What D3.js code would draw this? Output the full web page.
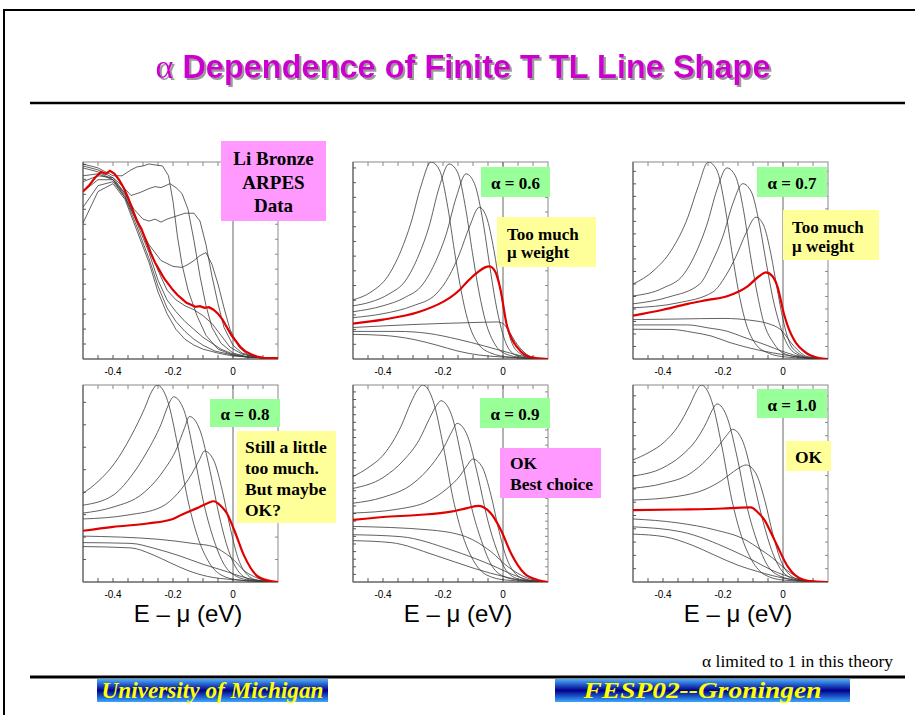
<!DOCTYPE html>
<html>
<head>
<meta charset="utf-8">
<script src="https://cdn.jsdelivr.net/npm/d3@7"></script>
<style>body{margin:0;background:#fff}</style>
</head>
<body>
<div id="slide"></div>
<script>
// energy axis (eV)
const eDomain = [-0.5, 0.15]
const eTicks = [-0.45, -0.4, -0.35, -0.3, -0.25, -0.2, -0.15, -0.1, -0.05, 0, 0.05, 0.1]
const eLabels = [-0.4, -0.2, 0]

// ARPES data panel
const arpesRed = [[-0.5,85],[-0.48,88],[-0.46,92],[-0.44,95],[-0.425,94],[-0.41,95.5],[-0.395,94],[-0.38,91],[-0.365,87],[-0.35,82],[-0.335,76],[-0.32,70],[-0.305,66],[-0.29,60],[-0.275,54],[-0.26,49],[-0.245,45],[-0.23,41],[-0.215,38],[-0.2,35],[-0.185,32.5],[-0.17,30.5],[-0.155,28.5],[-0.14,27.5],[-0.125,26.5],[-0.11,26.8],[-0.095,26],[-0.08,26.3],[-0.065,25],[-0.05,23],[-0.035,20],[-0.02,16],[-0.005,12],[0.01,9],[0.025,6],[0.04,4],[0.06,2.4],[0.08,1.2],[0.1,0.6],[0.15,0.4]]
const arpesBlack = [
  [[-0.5,99],[-0.45,97],[-0.4,93],[-0.37,93],[-0.34,96],[-0.32,97.5],[-0.3,98],[-0.28,99],[-0.26,98.5],[-0.235,98],[-0.215,93],[-0.2,80],[-0.185,62],[-0.17,48],[-0.15,35],[-0.12,22],[-0.09,12],[-0.05,5],[0,2],[0.05,1],[0.15,0.3]],
  [[-0.5,98],[-0.45,96],[-0.4,92],[-0.37,88],[-0.34,83],[-0.31,84.5],[-0.28,86.5],[-0.26,87.5],[-0.24,87],[-0.21,89],[-0.19,87],[-0.17,84],[-0.15,76],[-0.13,60],[-0.11,42],[-0.09,27],[-0.07,16],[-0.04,8],[0,3],[0.05,1],[0.15,0.3]],
  [[-0.5,97],[-0.45,95],[-0.4,91],[-0.36,84],[-0.33,76],[-0.3,71],[-0.28,70],[-0.26,71],[-0.24,69.5],[-0.22,71],[-0.19,72.5],[-0.16,74],[-0.13,74],[-0.11,70],[-0.09,58],[-0.07,42],[-0.05,28],[-0.03,16],[0,7],[0.03,3],[0.08,1],[0.15,0.3]],
  [[-0.5,93],[-0.45,94],[-0.4,91],[-0.36,82],[-0.32,70],[-0.28,58],[-0.24,50],[-0.2,47],[-0.17,46.5],[-0.15,48],[-0.13,50],[-0.11,52.5],[-0.09,54],[-0.07,48],[-0.05,38],[-0.03,26],[-0.01,15],[0.02,6],[0.05,2],[0.1,0.5],[0.15,0.3]],
  [[-0.5,90],[-0.45,93],[-0.4,92],[-0.36,84],[-0.32,71],[-0.28,57],[-0.25,45],[-0.22,35],[-0.19,30],[-0.16,27],[-0.13,25],[-0.1,22],[-0.07,18],[-0.04,12],[-0.01,6],[0.03,2.5],[0.08,0.8],[0.15,0.3]],
  [[-0.5,85],[-0.45,91],[-0.4,91],[-0.36,83],[-0.32,69],[-0.28,54],[-0.25,40],[-0.22,30],[-0.19,24],[-0.16,19],[-0.13,15],[-0.1,11],[-0.07,8],[-0.04,5],[0,2.5],[0.05,1],[0.15,0.3]],
  [[-0.5,77],[-0.45,88],[-0.4,90],[-0.36,82],[-0.32,67],[-0.28,51],[-0.25,37],[-0.22,26],[-0.19,19],[-0.16,14],[-0.13,10],[-0.1,7],[-0.06,4],[0,2],[0.05,0.8],[0.15,0.2]],
  [[-0.5,69],[-0.45,85],[-0.4,89],[-0.36,81],[-0.32,65],[-0.28,49],[-0.25,34],[-0.22,23],[-0.19,15],[-0.16,10],[-0.13,7],[-0.1,5],[-0.05,3],[0,1.5],[0.15,0.2]]
]

// theory, alpha = 0.6
const a06Red = [[-0.5,18],[-0.4,20],[-0.284,23.7],[-0.2,29],[-0.173,31.5],[-0.145,35],[-0.118,39.5],[-0.085,44],[-0.06,46.5],[-0.045,47],[-0.025,44],[-0.008,35],[0.013,17],[0.03,10],[0.047,6],[0.09,1],[0.15,0]]
const a06Black = [
  [[-0.5,30],[-0.44,34],[-0.384,42],[-0.34,55],[-0.307,69],[-0.273,88],[-0.24,100],[-0.212,96],[-0.184,77],[-0.162,55],[-0.14,35],[-0.118,20],[-0.084,8],[-0.04,3],[0.02,1],[0.15,0]],
  [[-0.5,27],[-0.44,29],[-0.38,33],[-0.324,40],[-0.28,53],[-0.247,67],[-0.213,87],[-0.18,99],[-0.152,95],[-0.124,76],[-0.102,54],[-0.08,34],[-0.058,19],[-0.025,7],[0.01,2.5],[0.06,0.8],[0.15,0]],
  [[-0.5,24],[-0.4,27],[-0.33,31],[-0.267,38],[-0.223,50],[-0.19,63],[-0.156,82],[-0.123,94],[-0.095,89],[-0.067,70],[-0.045,48],[-0.025,29],[-0.005,15],[0.02,5],[0.05,1.5],[0.1,0.3],[0.15,0]],
  [[-0.5,21],[-0.4,23],[-0.3,27],[-0.223,33],[-0.18,42],[-0.146,53],[-0.112,67],[-0.079,77],[-0.055,72],[-0.03,55],[-0.01,36],[0.01,19],[0.03,8],[0.06,2.5],[0.1,0.5],[0.15,0]],
  [[-0.5,16],[-0.3,17.5],[-0.1,18.5],[-0.02,18.8],[0,18],[0.02,14],[0.04,9],[0.07,3.5],[0.1,0.8],[0.15,0]],
  [[-0.5,14],[-0.35,14],[-0.25,13],[-0.15,10],[-0.062,6.6],[0,4],[0.05,2],[0.1,0.5],[0.15,0]],
  [[-0.5,12.5],[-0.4,12],[-0.3,10],[-0.22,7],[-0.15,4],[-0.08,2],[0,1],[0.1,0.2],[0.15,0]]
]

// theory, alpha = 0.7
const a07Red = [[-0.5,22],[-0.4,25],[-0.317,28],[-0.25,30],[-0.184,32],[-0.117,37],[-0.08,42],[-0.057,44],[-0.035,42],[-0.018,36.5],[0.003,23],[0.02,15],[0.037,9.6],[0.08,2.8],[0.12,0.5],[0.15,0]]
const a07Black = [
  [[-0.5,38],[-0.43,45],[-0.373,55],[-0.317,72],[-0.284,87],[-0.249,100],[-0.221,96],[-0.193,77],[-0.171,55],[-0.149,35],[-0.127,20],[-0.093,8],[-0.049,3],[0.01,1],[0.15,0]],
  [[-0.5,32],[-0.4,36],[-0.331,43],[-0.287,55],[-0.254,68],[-0.22,86],[-0.187,97],[-0.159,93],[-0.131,75],[-0.109,53],[-0.087,34],[-0.065,19],[-0.031,8],[0,3],[0.05,1],[0.15,0]],
  [[-0.5,28],[-0.38,31.5],[-0.278,38],[-0.234,50],[-0.201,62],[-0.167,79],[-0.134,89],[-0.106,85],[-0.078,68],[-0.056,49],[-0.034,31],[-0.012,18],[0.02,6],[0.06,1.5],[0.1,0.3],[0.15,0]],
  [[-0.5,26],[-0.35,28.5],[-0.234,34],[-0.19,42.5],[-0.157,52],[-0.123,64],[-0.09,72],[-0.065,68],[-0.04,53],[-0.02,36],[0,20],[0.02,9],[0.05,3],[0.09,0.6],[0.15,0]],
  [[-0.5,20],[-0.35,20.3],[-0.2,20.6],[-0.1,19.5],[-0.05,18],[-0.007,14.8],[0.037,6.4],[0.08,1.3],[0.15,0]],
  [[-0.5,17.3],[-0.318,17.3],[-0.25,15.8],[-0.184,14],[-0.13,11],[-0.073,8],[0.016,3],[0.08,0.5],[0.15,0]],
  [[-0.5,15.1],[-0.373,15],[-0.3,13.5],[-0.24,11.7],[-0.18,8.5],[-0.117,5.8],[-0.007,2.4],[0.08,0.5],[0.15,0]]
]

// theory, alpha = 0.8
const a08Red = [[-0.5,26],[-0.4,28],[-0.285,29.7],[-0.2,32],[-0.173,34],[-0.12,37.5],[-0.085,40],[-0.064,41],[-0.04,38.5],[-0.02,34.8],[0.004,26.4],[0.038,13],[0.083,2.8],[0.13,0.3],[0.15,0]]
const a08Black = [
  [[-0.5,45],[-0.45,51],[-0.396,60],[-0.34,74],[-0.295,88],[-0.27,97],[-0.253,100],[-0.218,92],[-0.184,69],[-0.151,42],[-0.118,23],[-0.084,11],[-0.04,3.6],[0.02,1],[0.15,0]],
  [[-0.5,39],[-0.4,44],[-0.343,53],[-0.287,66],[-0.24,80],[-0.215,90],[-0.198,94],[-0.163,87],[-0.129,64],[-0.096,39],[-0.063,21],[-0.03,9],[0.01,3],[0.06,0.8],[0.15,0]],
  [[-0.5,35],[-0.4,38],[-0.3,45],[-0.234,56],[-0.187,68],[-0.162,78],[-0.145,84],[-0.11,77],[-0.076,56],[-0.045,33],[-0.015,16],[0.02,5],[0.06,1.2],[0.15,0]],
  [[-0.5,32],[-0.35,34],[-0.24,38],[-0.184,45],[-0.137,55],[-0.112,62],[-0.095,66.5],[-0.065,62],[-0.035,46],[-0.01,28],[0.015,13],[0.04,5],[0.08,1],[0.15,0]],
  [[-0.5,23.3],[-0.25,21.7],[-0.13,19.5],[-0.064,17.9],[-0.03,15],[0.004,11],[0.035,6],[0.071,2.7],[0.11,0.6],[0.15,0]],
  [[-0.5,20],[-0.34,19.6],[-0.26,17],[-0.173,13],[-0.1,9],[-0.04,6.2],[0.049,1.9],[0.1,0.4],[0.15,0]],
  [[-0.5,18],[-0.34,17.3],[-0.27,14],[-0.207,9.6],[-0.15,5.8],[-0.084,2.8],[0,1.2],[0.08,0.3],[0.15,0]]
]

// theory, alpha = 0.9
const a09Red = [[-0.5,31.5],[-0.4,33],[-0.284,34],[-0.173,35.7],[-0.12,37.5],[-0.081,38.6],[-0.06,37.5],[-0.04,34.8],[-0.007,26.4],[0.027,14.5],[0.071,4.4],[0.115,1],[0.15,0]]
const a09Black = [
  [[-0.5,53.5],[-0.45,58],[-0.396,65],[-0.34,79],[-0.307,91],[-0.285,97.5],[-0.268,100],[-0.233,92],[-0.199,69],[-0.166,42],[-0.133,23],[-0.099,11],[-0.055,3.6],[0.01,1],[0.15,0]],
  [[-0.5,47.5],[-0.4,53],[-0.33,62],[-0.28,72],[-0.245,83],[-0.222,89.5],[-0.207,92],[-0.172,85],[-0.138,63],[-0.105,38],[-0.072,21],[-0.04,9],[0,3],[0.06,0.8],[0.15,0]],
  [[-0.5,40],[-0.4,43],[-0.3,50],[-0.24,59],[-0.195,69],[-0.17,76.5],[-0.153,80.5],[-0.118,74],[-0.084,54],[-0.052,32],[-0.02,16],[0.015,5],[0.06,1.2],[0.15,0]],
  [[-0.5,35],[-0.35,37],[-0.25,41],[-0.19,47],[-0.143,54],[-0.118,59.5],[-0.101,62.4],[-0.07,58.5],[-0.04,44],[-0.015,27],[0.01,13],[0.04,4.5],[0.08,1],[0.15,0]],
  [[-0.5,28.2],[-0.25,26.5],[-0.124,23],[-0.04,15.4],[0.016,7.8],[0.083,1.9],[0.15,0]],
  [[-0.5,24],[-0.34,23],[-0.173,16.3],[-0.04,8.7],[0.049,2.8],[0.1,0.6],[0.15,0]],
  [[-0.5,21],[-0.373,20],[-0.229,13.7],[-0.096,6.9],[0.004,2.7],[0.08,0.5],[0.15,0]]
]

// theory, alpha = 1.0
const a10Red = [[-0.5,36.5],[-0.35,36.8],[-0.2,37.3],[-0.14,37.8],[-0.107,37.9],[-0.085,35.5],[-0.062,31.5],[-0.04,25],[-0.018,18],[0.016,7.8],[0.04,3.5],[0.071,1],[0.11,0.2],[0.15,0]]
const a10Black = [
  [[-0.5,62],[-0.45,65.5],[-0.396,71],[-0.35,79],[-0.31,90],[-0.29,96.5],[-0.273,100],[-0.238,92],[-0.204,69],[-0.171,42],[-0.138,23],[-0.104,11],[-0.06,3.6],[0,1],[0.15,0]],
  [[-0.5,53.8],[-0.4,58],[-0.34,64],[-0.29,72],[-0.255,81],[-0.235,87.5],[-0.22,90.4],[-0.185,83],[-0.151,62],[-0.118,37],[-0.085,20],[-0.052,8.5],[-0.01,3],[0.05,0.8],[0.15,0]],
  [[-0.5,47.6],[-0.4,50],[-0.31,55],[-0.255,62],[-0.21,70],[-0.185,75],[-0.168,77.5],[-0.133,71],[-0.1,52],[-0.067,31],[-0.035,15],[0,5],[0.05,1],[0.15,0]],
  [[-0.5,41.6],[-0.35,43.5],[-0.26,47],[-0.205,51.5],[-0.165,56],[-0.14,58.5],[-0.123,59.4],[-0.09,55],[-0.06,41],[-0.035,25],[-0.01,12],[0.02,4],[0.06,1],[0.15,0]],
  [[-0.5,32],[-0.35,30],[-0.228,26.5],[-0.124,21.3],[-0.08,17],[-0.04,12.8],[0.027,4.4],[0.08,0.8],[0.15,0]],
  [[-0.5,28],[-0.34,25.5],[-0.173,16.3],[-0.1,11],[-0.04,6.2],[0.049,1.5],[0.1,0.3],[0.15,0]],
  [[-0.5,24.3],[-0.396,23],[-0.3,18.5],[-0.229,13.7],[-0.15,8.5],[-0.084,5.3],[0.004,1.9],[0.08,0.3],[0.15,0]]
]

// spacing of the intensity ticks in each panel
const yTickSteps = [7.6, 7.46, 6.35, 11.4, 3.86, 6.75]

const W = 915, H = 715
const colX = [83, 353, 633], rowY = [162, 385]
const pw = 195, ph = 197
const sans = "Arial, 'Liberation Sans', Helvetica, sans-serif"
const serif = "'Times New Roman', 'Liberation Serif', Times, serif"

const svg = d3.select("#slide").append("svg")
    .attr("width", W).attr("height", H)
    .style("background", "white")

const defs = svg.append("defs")
defs.append("filter").attr("id", "shadow").attr("x", "-5%").attr("y", "-20%").attr("width", "110%").attr("height", "140%")
    .append("feDropShadow").attr("dx", 2).attr("dy", 2).attr("stdDeviation", 0.4)
    .attr("flood-color", "#9a9a9a").attr("flood-opacity", 1)

// slide frame
svg.append("path").attr("d", "M4,715 V10 H915")
    .attr("fill", "none").attr("stroke", "#000").attr("stroke-width", 2)

// title (one text, shadow by filter)
const title = svg.append("text").attr("x", 463).attr("y", 78)
    .attr("text-anchor", "middle").attr("font-size", 32.5).attr("fill", "#cc00cc")
    .attr("filter", "url(#shadow)")
title.append("tspan").attr("font-family", serif).attr("font-size", 34).text("α")
title.append("tspan").attr("font-family", sans).attr("font-weight", "bold").text(" Dependence of Finite T TL Line Shape")

svg.append("line").attr("x1", 30).attr("x2", 905).attr("y1", 103).attr("y2", 103)
    .attr("stroke", "#000").attr("stroke-width", 2.5)

const panels = [
    {col: 0, row: 0, black: arpesBlack, red: arpesRed, step: yTickSteps[0], curve: d3.curveLinear},
    {col: 1, row: 0, black: a06Black, red: a06Red, step: yTickSteps[1], curve: d3.curveMonotoneX},
    {col: 2, row: 0, black: a07Black, red: a07Red, step: yTickSteps[2], curve: d3.curveMonotoneX},
    {col: 0, row: 1, black: a08Black, red: a08Red, step: yTickSteps[3], curve: d3.curveMonotoneX},
    {col: 1, row: 1, black: a09Black, red: a09Red, step: yTickSteps[4], curve: d3.curveMonotoneX},
    {col: 2, row: 1, black: a10Black, red: a10Red, step: yTickSteps[5], curve: d3.curveMonotoneX}
]

panels.forEach((p, i) => {
    const g = svg.append("g").attr("transform", `translate(${colX[p.col]},${rowY[p.row]})`)
    const x = d3.scaleLinear().domain(eDomain).range([0, pw])
    const y = d3.scaleLinear().domain([0, 100]).range([ph, 0])

    g.append("clipPath").attr("id", "clip" + i)
        .append("rect").attr("width", pw).attr("height", ph)

    // frame
    g.append("rect").attr("width", pw).attr("height", ph)
        .attr("fill", "none").attr("stroke", "#8a8a8a").attr("stroke-width", 1)
    g.append("path").attr("d", `M0,0 V${ph} H${pw}`)
        .attr("fill", "none").attr("stroke", "#555").attr("stroke-width", 1)

    // ticks on all four sides, pointing in
    const yt = d3.range(p.step, 100, p.step)
    g.append("g").selectAll("line").data(eTicks).join("line")
        .attr("x1", d => x(d)).attr("x2", d => x(d)).attr("y1", ph).attr("y2", ph - 4)
        .attr("stroke", "#555")
    g.append("g").selectAll("line").data(eTicks).join("line")
        .attr("x1", d => x(d)).attr("x2", d => x(d)).attr("y1", 0).attr("y2", 4)
        .attr("stroke", "#888")
    g.append("g").selectAll("line").data(yt).join("line")
        .attr("x1", 0).attr("x2", 3).attr("y1", d => y(d)).attr("y2", d => y(d))
        .attr("stroke", "#555")
    g.append("g").selectAll("line").data(yt).join("line")
        .attr("x1", pw).attr("x2", pw - 3).attr("y1", d => y(d)).attr("y2", d => y(d))
        .attr("stroke", "#888")

    g.append("g").selectAll("text").data(eLabels).join("text")
        .attr("x", d => x(d)).attr("y", ph + 16)
        .attr("text-anchor", "middle").attr("font-family", sans).attr("font-size", 10)
        .text(d => d.toString())

    // Fermi level
    g.append("line").attr("x1", x(0)).attr("x2", x(0)).attr("y1", 0).attr("y2", ph)
        .attr("stroke", "#666").attr("stroke-width", 1)

    const line = d3.line().x(d => x(d[0])).y(d => y(d[1])).curve(p.curve)
    const plot = g.append("g").attr("clip-path", `url(#clip${i})`)
    plot.selectAll("path.k").data(p.black).join("path").attr("class", "k")
        .attr("d", line).attr("fill", "none").attr("stroke", "#3a3a3a").attr("stroke-width", 0.8)
    plot.append("path").datum(p.red).attr("d", line)
        .attr("fill", "none").attr("stroke", "#e00000").attr("stroke-width", 2.2)

    if (p.row === 1) {
        svg.append("text").attr("x", colX[p.col] + x(-0.15)).attr("y", rowY[1] + ph + 40)
            .attr("text-anchor", "middle").attr("font-family", sans).attr("font-size", 24)
            .text("E – μ (eV)")
    }
})

// annotation boxes
function note(x, y, w, h, fill, lines, opts) {
    svg.append("rect").attr("x", x).attr("y", y).attr("width", w).attr("height", h).attr("fill", fill)
    const t = svg.append("text").attr("font-family", serif).attr("font-weight", "bold")
        .attr("font-size", opts.size).attr("text-anchor", opts.anchor)
    lines.forEach((s, k) => t.append("tspan").attr("x", opts.tx).attr("y", opts.ty + k * opts.lh).text(s))
}
const green = "#99ff99", yellow = "#ffff99", pink = "#ff99ff"

note(221, 141, 105, 80, pink, ["Li Bronze", "ARPES", "Data"], {size: 19, anchor: "middle", tx: 273.5, ty: 165, lh: 23.5})

note(481, 167, 69, 30, green, ["α = 0.6"], {size: 17, anchor: "middle", tx: 515.5, ty: 189, lh: 0})
note(497, 217, 99, 50, yellow, ["Too much", "μ weight"], {size: 17, anchor: "start", tx: 507, ty: 240, lh: 18})

note(757, 167, 70, 30, green, ["α = 0.7"], {size: 17, anchor: "middle", tx: 792, ty: 189, lh: 0})
note(783, 210, 96, 50, yellow, ["Too much", "μ weight"], {size: 17, anchor: "start", tx: 792, ty: 233, lh: 19})

note(210, 399, 70, 28, green, ["α = 0.8"], {size: 17, anchor: "middle", tx: 245, ty: 420, lh: 0})
note(237, 431, 99, 92, yellow, ["Still a little", "too much.", "But maybe", "OK?"], {size: 17.5, anchor: "start", tx: 245, ty: 453, lh: 21})

note(480, 398, 70, 30, green, ["α = 0.9"], {size: 17, anchor: "middle", tx: 515, ty: 420, lh: 0})
note(500, 448, 101, 50, pink, ["OK", "Best choice"], {size: 17.5, anchor: "start", tx: 510, ty: 469, lh: 21})

note(757, 389, 70, 29, green, ["α = 1.0"], {size: 17, anchor: "middle", tx: 792, ty: 411, lh: 0})
note(786, 441, 45, 30, yellow, ["OK"], {size: 17.5, anchor: "middle", tx: 808.5, ty: 463, lh: 0})

// footer
svg.append("text").attr("x", 893).attr("y", 667).attr("text-anchor", "end")
    .attr("font-family", serif).attr("font-size", 17.5).text("α limited to 1 in this theory")
svg.append("line").attr("x1", 30).attr("x2", 905).attr("y1", 677).attr("y2", 677)
    .attr("stroke", "#000").attr("stroke-width", 3)

const grad = defs.append("linearGradient").attr("id", "band")
    .attr("x1", 0).attr("x2", 0).attr("y1", 0).attr("y2", 1)
grad.selectAll("stop").data([["0%", "#4ab0ff"], ["50%", "#00008c"], ["100%", "#3aa8ff"]]).join("stop")
    .attr("offset", d => d[0]).attr("stop-color", d => d[1])

function banner(x, w, label, tw) {
    svg.append("rect").attr("x", x).attr("y", 679).attr("width", w).attr("height", 23).attr("fill", "url(#band)")
    svg.append("text").attr("x", x + w / 2).attr("y", 698).attr("text-anchor", "middle")
        .attr("font-family", serif).attr("font-style", "italic").attr("font-weight", "bold")
        .attr("font-size", 24).attr("fill", "#ffff00")
        .attr("textLength", tw).attr("lengthAdjust", "spacingAndGlyphs")
        .text(label)
}
banner(97, 231, "University of Michigan", 222)
banner(555, 295, "FESP02--Groningen", 238)
</script>
</body>
</html>
